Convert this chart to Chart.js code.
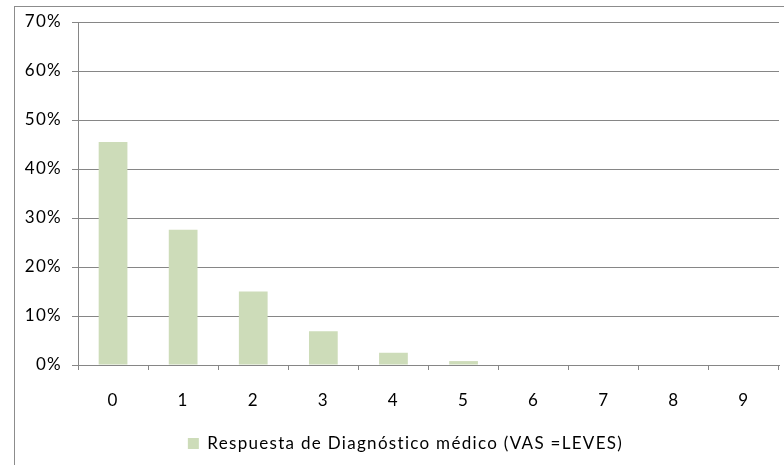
<!DOCTYPE html>
<html><head><meta charset="utf-8">
<script src="https://cdn.jsdelivr.net/npm/chart.js@4"></script>
<style>
html,body{margin:0;padding:0;background:#fff;}
#wrap{position:relative;width:784px;height:465px;overflow:hidden;}
#frame{position:absolute;left:14px;top:6px;width:800px;height:500px;border:1px solid #8c8c8c;box-sizing:border-box;}
canvas{position:absolute;left:0;top:0;}
</style></head>
<body>
<div id="wrap"><div id="frame"></div><canvas id="c" width="784" height="465"></canvas></div>
<script>
const categories = ['0','1','2','3','4','5','6','7','8','9'];
const seriesName = 'Respuesta de Diagnóstico médico (VAS =LEVES)';
const values = [45.5, 27.6, 15.0, 6.9, 2.5, 0.8, 0, 0, 0, 0];
const yTicks = [0, 10, 20, 30, 40, 50, 60, 70];

const FONT = "Lato, 'Open Sans', sans-serif";
const spacing = {
  id: 'spacing',
  beforeUpdate(chart) { chart.ctx.letterSpacing = '1.3px'; },
  beforeDraw(chart) {
    chart.ctx.letterSpacing = '1.3px';
    if (chart.legend) { chart.legend.left = 32; chart.legend.right = chart.width - 5; }
  }
};
new Chart(document.getElementById('c'), {
  type: 'bar',
  data: { labels: categories, datasets: [{ label: seriesName, data: values, backgroundColor: '#cddcb9', borderWidth: 0, barPercentage: 0.41, categoryPercentage: 1.0 }] },
  options: {
    responsive: false, animation: false, devicePixelRatio: 1,
    layout: { padding: { top: 22, right: 5, bottom: 3, left: 0 } },
    plugins: {
      tooltip: { enabled: false },
      legend: { position: 'bottom', labels: { color: '#000', font: { family: FONT, size: 17 }, boxWidth: 11, boxHeight: 11, padding: 10 } }
    },
    scales: {
      x: {
        grid: { display: true, drawOnChartArea: false, offset: true, color: '#868686', tickLength: 5, tickColor: '#868686' },
        border: { color: '#868686' },
        ticks: { color: '#000', font: { family: FONT, size: 17 }, padding: 20, maxRotation: 0 },
        afterFit: s => { s.height = 60; }
      },
      y: {
        min: 0, max: 70,
        afterBuildTicks: s => { s.ticks = yTicks.map(v => ({ value: v })); },
        grid: { color: '#868686', tickLength: 6, tickColor: '#868686' },
        border: { color: '#868686' },
        ticks: { color: '#000', font: { family: FONT, size: 17 }, padding: 10, callback: v => v + '%' },
        afterFit: s => { s.width = 78; }
      }
    }
  },
  plugins: [spacing]
});
</script>
</body></html>
